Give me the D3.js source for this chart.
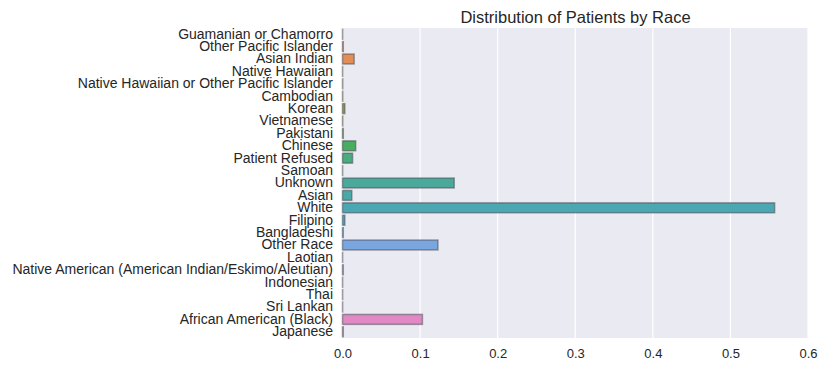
<!DOCTYPE html>
<html>
<head>
<meta charset="utf-8">
<script src="https://cdn.jsdelivr.net/npm/d3@7"></script>
<style>
  body { margin: 0; background: #fff; }
  text { font-family: "Liberation Sans", Arial, sans-serif; fill: #262626; }
</style>
</head>
<body>
<div id="chart"></div>
<script>
var races = [
  'Guamanian or Chamorro', 'Other Pacific Islander', 'Asian Indian', 'Native Hawaiian',
  'Native Hawaiian or Other Pacific Islander', 'Cambodian', 'Korean', 'Vietnamese',
  'Pakistani', 'Chinese', 'Patient Refused', 'Samoan', 'Unknown', 'Asian', 'White',
  'Filipino', 'Bangladeshi', 'Other Race', 'Laotian',
  'Native American (American Indian/Eskimo/Aleutian)', 'Indonesian', 'Thai',
  'Sri Lankan', 'African American (Black)', 'Japanese'
];

var shares = [
  0.0002, 0.001, 0.015, 0.0002,
  0.0003, 0.0003, 0.003, 0.0003,
  0.001, 0.017, 0.013, 0.0002, 0.144, 0.012, 0.557,
  0.003, 0.001, 0.123, 0.0002,
  0.001, 0.0002, 0.0002,
  0.0002, 0.103, 0.001
];

var xTicks = [0, 0.1, 0.2, 0.3, 0.4, 0.5, 0.6];

// seaborn husl-ish palette, desaturated
var colors = [
  '#d8828e', '#d4876f', '#e28e56', '#c3964d', '#b39b44', '#a39f45', '#94a243', '#80a543',
  '#62a948', '#48ad5f', '#4aab7e', '#4aaa8d', '#4aa99a', '#4aa9a6', '#4ba8b3', '#50a6c3',
  '#5ca3d4', '#7aa6e0', '#96a0e0', '#ad98e0', '#c08fe0', '#d387dc', '#dd86d0', '#e089c4',
  '#dc87a4'
];

var W = 827, H = 372;
var m = {left: 343, right: 19, top: 28, bottom: 34};

var svg = d3.select('#chart').append('svg')
  .attr('width', W).attr('height', H);

var x = d3.scaleLinear().domain([0, 0.6]).range([m.left - 0.5, W - m.right]);
var y = d3.scaleBand().domain(races).range([m.top, H - m.bottom]).paddingInner(0.2).paddingOuter(0.1);

svg.append('rect')
  .attr('x', m.left).attr('y', m.top)
  .attr('width', W - m.right - m.left).attr('height', H - m.bottom - m.top)
  .attr('fill', '#eaeaf2');

svg.selectAll('line.grid')
  .data(xTicks)
  .enter()
  .append('line')
    .attr('class', 'grid')
    .attr('x1', function(d) { return x(d); })
    .attr('x2', function(d) { return x(d); })
    .attr('y1', m.top).attr('y2', H - m.bottom)
    .attr('stroke', '#fff').attr('stroke-width', 1.2);

svg.selectAll('rect.bar')
  .data(races)
  .enter()
  .append('rect')
    .attr('class', 'bar')
    .attr('x', x(0))
    .attr('y', function(d) { return y(d); })
    .attr('width', function(d, i) { return Math.max(0, x(shares[i]) - x(0)); })
    .attr('height', y.bandwidth())
    .attr('fill', function(d, i) { return colors[i]; })
    .attr('stroke', 'rgba(70,70,80,0.5)')
    .attr('stroke-width', 1.5);

var xAxis = d3.axisBottom(x).tickValues(xTicks).tickFormat(d3.format('.1f')).tickSize(0).tickPadding(11);
svg.append('g')
  .attr('transform', 'translate(0,' + (H - m.bottom) + ')')
  .call(xAxis)
  .call(function(g) { g.select('.domain').remove(); })
  .selectAll('text').style('font-size', '13px').attr('fill', '#262626');

var yAxis = d3.axisLeft(y).tickSize(0).tickPadding(10);
svg.append('g')
  .attr('transform', 'translate(' + m.left + ',0)')
  .call(yAxis)
  .call(function(g) { g.select('.domain').remove(); })
  .selectAll('text').style('font-size', '14px').attr('fill', '#262626');

svg.append('text')
  .attr('x', (m.left + W - m.right) / 2)
  .attr('y', 23)
  .attr('text-anchor', 'middle')
  .style('font-size', '16.5px')
  .text('Distribution of Patients by Race');
</script>
</body>
</html>
